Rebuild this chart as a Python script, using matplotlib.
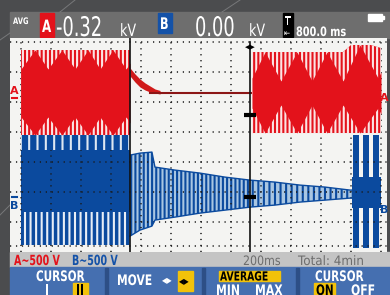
import matplotlib
matplotlib.use("Agg")
import matplotlib.pyplot as plt
from matplotlib.patches import Rectangle, PathPatch
from matplotlib.textpath import TextPath
from matplotlib.font_manager import FontProperties
from matplotlib.transforms import Affine2D, blended_transform_factory

# === SCOPE SETTINGS ===
T_DIV = 200          # ms / div, 12 div across
V_DIV = 500          # V / div, both channels
A_ZERO = 2.2         # zero level of A, in divisions from screen centre
B_ZERO = -1.17       # zero level of B
CURSOR_T = [727, 1527]
A_READ = -320        # V at cursor II
B_READ = 0

# === CHANNEL A (red) ===
a1_t = [0, 727]
a1_top = [767, 767]
a1_bot = [-650, -650]
a1_lobe_t = [0, 93, 180, 273, 360, 447, 527, 613, 700, 727]
a1_lobe_top = [450, 767, 450, 767, 450, 767, 450, 767, 450, 550]
a1_lobe_bot = [-350, -650, -350, -650, -350, -650, -350, -650, -350, -450]

a2_t = [727, 760, 793, 827, 860, 893, 927]
a2_top = [467, 367, 283, 217, 167, 117, 92]
a2_bot = [333, 233, 150, 100, 67, 50, 33]
a3_t = [860, 1540]
a3_v = [50, 50]

a4_t = [1540, 2147, 2200, 2330, 2400]
a4_top = [733, 733, 850, 850, 800]
a4_bot = [-617, -617, -617, -617, -617]
a4_lobe_t = [1540, 1627, 1733, 1840, 1940, 2040, 2147, 2260, 2380, 2400]
a4_lobe_top = [300, 733, 250, 733, 250, 733, 250, 850, 300, 400]
a4_lobe_bot = [-200, -617, -150, -617, -150, -617, -150, -617, -200, -300]

# === CHANNEL B (blue) ===
b1_t = [0, 727]
b1_top = [1067, 1067]
b1_bot = [-800, -800]
b1_notch = [783, 783]
b1_comb = [-250, -250]

b2_t = [727, 793, 873, 893, 1027, 1193, 1360, 1527, 1693, 1860, 2027, 2193, 2207]
b2_top = [700, 733, 750, 500, 450, 400, 333, 283, 250, 200, 167, 117, 117]
b2_bot = [-650, -550, -483, -383, -333, -267, -217, -167, -133, -83, -50, -17, -17]
B2_SPLIT = 7   # denser swing up to cursor II

b3_t = [2207, 2400]
b3_top = [333, 333]
b3_bot = [-183, -183]
b3_burst_t = [2233, 2300, 2367]
b3_burst_top = 1033
b3_burst_bot = -850

RED = "#e3121b"
DRED = "#8c1616"
BLUE = "#0b4a9e"
LBLUE = "#a9c6e2"
YEL = "#f2c20a"

plt.rcParams["hatch.linewidth"] = 1.5


def ya(v):
    return [A_ZERO + x / V_DIV for x in v]


def yb(v):
    return [B_ZERO + x / V_DIV for x in v]


W, H = 390, 295
fig = plt.figure(figsize=(3.9, 2.95), dpi=100)
fig.patch.set_facecolor("#4b4c4e")

# === BEZEL + BARS (pixel coords) ===
bg = fig.add_axes([0, 0, 1, 1])
bg.set_xlim(0, W)
bg.set_ylim(H, 0)
bg.axis("off")


def ptext(x, y, s, size, sx=0.72, color="white", weight="normal", family="DejaVu Sans"):
    # narrow scope font: squeeze a text path sideways, baseline at y
    tp = TextPath((0, 0), s, size=size, prop=FontProperties(family=family, weight=weight))
    tf = Affine2D().scale(sx, -1).translate(x, y) + bg.transData
    bg.add_patch(PathPatch(tp, transform=tf, color=color, lw=0))


for (x0, y0, x1, y1) in [(0, 40, 10, 33), (60, 12, 75, 0), (222, 12, 240, 0), (0, 215, 10, 205)]:
    bg.plot([x0, x1], [y0, y1], color="#77787a", lw=0.7)

bg.add_patch(Rectangle((10, 12), 380, 26, color="#6e6e6e"))
bg.add_patch(Rectangle((10, 252), 380, 15, color="#c4c4c4"))
bg.add_patch(Rectangle((10, 267), 380, 28, color="#456fb0"))
for xd in [105, 202, 296]:
    bg.add_patch(Rectangle((xd, 268), 3, 27, color="#2d4f86"))

# header
ptext(13, 24, "AVG", 9, sx=0.75, weight="bold")
bg.add_patch(Rectangle((40, 13), 14, 24, color=RED))
ptext(42, 32, "A", 17, sx=0.7, weight="bold")
ptext(56, 36, "-0.32", 27, sx=0.66)
ptext(120, 36, "kV", 17, sx=0.75)
bg.add_patch(Rectangle((158, 13), 14, 20, color="#1452a8"))
ptext(160, 29, "B", 16, sx=0.7, weight="bold")
ptext(195, 36, "0.00", 27, sx=0.66)
ptext(249, 36, "kV", 17, sx=0.75)
bg.add_patch(Rectangle((283, 13), 10, 24, color="black"))
ptext(284.5, 25, "T", 12, sx=0.75, weight="bold")
ptext(284, 36, "⇤", 9, sx=0.8)
ptext(296, 36, "800.0 ms", 13, sx=0.75, weight="bold")
bg.add_patch(Rectangle((368, 14), 14, 7, color="white"))
bg.add_patch(Rectangle((382, 16), 2, 3, color="white"))

# status bar
ptext(14, 265, "A~500 V", 14, sx=0.68, color=RED, weight="bold")
ptext(72, 265, "B~500 V", 14, sx=0.68, color="#1452a8", weight="bold")
ptext(243, 265, "200ms", 13, sx=0.85, color="#6d6d6d")
ptext(298, 265, "Total: 4min", 13, sx=0.92, color="#6d6d6d")

# function keys
fk = 14.5
ptext(36, 281, "CURSOR", fk, sx=0.72, weight="bold")
ptext(45, 295, "I", fk, sx=0.72, weight="bold")
bg.add_patch(Rectangle((73, 283), 15, 12, color=YEL))
ptext(76, 295, "II", fk, sx=0.72, color="black", weight="bold")
ptext(117, 285, "MOVE", fk, sx=0.74, weight="bold")
ptext(162, 284, "◂▸", 12, sx=0.8)
bg.add_patch(Rectangle((178, 271), 15, 20, color=YEL))
ptext(179, 285, "◂▸", 12, sx=0.8, color="black")
bg.add_patch(Rectangle((219, 271), 61, 10, color=YEL))
ptext(220, 280.5, "AVERAGE", 12.5, sx=0.74, color="black", weight="bold")
ptext(216, 295, "MIN", fk, sx=0.75, weight="bold")
ptext(255, 295, "MAX", fk, sx=0.75, weight="bold")
ptext(315, 281, "CURSOR", fk, sx=0.72, weight="bold")
bg.add_patch(Rectangle((314, 283), 21, 12, color=YEL))
ptext(316, 295, "ON", fk, sx=0.72, color="black", weight="bold")
ptext(351, 295, "OFF", fk, sx=0.75, weight="bold")

# === TRACE SCREEN ===
ax = fig.add_axes([10 / W, 1 - 252 / H, 377 / W, 214 / H])
ax.set_facecolor("#f4f4f2")
ax.set_xlim(-73.3, 2440)
ax.set_ylim(-3.0, 4.133)
ax.set_xticks([i * T_DIV for i in range(13)])
ax.set_yticks([-2.8, -2, -1, 0, 1, 2, 3, 4])
ax.grid(True, color="#1a1a1a", linestyle=(0, (0.8, 3.1)), linewidth=1.1)
ax.tick_params(length=0, labelbottom=False, labelleft=False)
for s in ax.spines.values():
    s.set_visible(False)

# B
ax.fill_between(b1_t, yb(b1_top), yb(b1_bot), color=BLUE, lw=0, zorder=1.5)
ax.fill_between(b1_t, yb(b1_comb), yb(b1_bot), facecolor=BLUE, edgecolor="#e8eef6", hatch="|||", lw=0, zorder=1.6)
ax.fill_between(b1_t, yb(b1_top), yb(b1_notch), facecolor=BLUE, edgecolor="#dfe8f2", hatch="||", lw=0, zorder=1.6)
k = B2_SPLIT
ax.fill_between(b2_t[:k + 1], yb(b2_top[:k + 1]), yb(b2_bot[:k + 1]), facecolor=LBLUE, edgecolor=BLUE,
                hatch="||||", lw=0, zorder=1.5)
ax.fill_between(b2_t[k:], yb(b2_top[k:]), yb(b2_bot[k:]), facecolor=LBLUE, edgecolor=BLUE,
                hatch="|||", lw=0, zorder=1.5)
ax.plot(b2_t, yb(b2_top), color=BLUE, lw=1, zorder=1.7)
ax.plot(b2_t, yb(b2_bot), color=BLUE, lw=1, zorder=1.7)
ax.fill_between(b3_t, yb(b3_top), yb(b3_bot), color=BLUE, lw=0, zorder=1.5)
ax.bar(b3_burst_t, (b3_burst_top - b3_burst_bot) / V_DIV, bottom=yb([b3_burst_bot])[0],
       width=40, color=BLUE, zorder=1.5)

# A
ax.fill_between(a1_t, ya(a1_top), ya(a1_bot), facecolor=RED, edgecolor="#fbe4e4", hatch="||||", lw=0, zorder=2)
ax.fill_between(a1_lobe_t, ya(a1_lobe_top), ya(a1_lobe_bot), color=RED, lw=0, zorder=2.1)
ax.fill_between(a2_t, ya(a2_top), ya(a2_bot), color="#d01a1a", lw=0, zorder=2)
ax.plot(a3_t, ya(a3_v), color=DRED, lw=1.5, zorder=2)
ax.fill_between(a4_t, ya(a4_top), ya(a4_bot), facecolor=RED, edgecolor="#fbe4e4", hatch="||||", lw=0, zorder=2)
ax.fill_between(a4_lobe_t, ya(a4_lobe_top), ya(a4_lobe_bot), color=RED, lw=0, zorder=2.1)

# cursors
ax.axvline(CURSOR_T[0], color="#111111", lw=1.2, zorder=4)
ax.axvline(CURSOR_T[1], ymax=0.981, color="#111111", lw=1.2, zorder=4)
ax.text(CURSOR_T[1], 3.83, "◀▶", fontsize=5, ha="center", va="center", color="black", zorder=5)
ax.plot([CURSOR_T[1]], ya([A_READ]), marker="_", ms=8, mew=3, color="black", zorder=5)
ax.plot([CURSOR_T[1]], yb([B_READ]), marker="_", ms=8, mew=3, color="black", zorder=5)

# channel markers
tr = blended_transform_factory(ax.transAxes, ax.transData)
mk = dict(fontsize=8, fontweight="bold", ha="center", va="center", transform=tr)
ax.text(0.011, A_ZERO + 0.18, "A", color=RED, **mk)
ax.plot([0.004, 0.018], [A_ZERO - 0.07] * 2, color=RED, lw=1.5, transform=tr)
ax.plot([0.004, 0.018], [B_ZERO] * 2, color=BLUE, lw=1.5, transform=tr)
ax.text(0.011, B_ZERO - 0.3, "B", color=BLUE, **mk)
ax.text(0.992, A_ZERO - 0.07, "A", color=RED, **mk)
ax.text(0.992, B_ZERO - 0.43, "B", color=BLUE, **mk)

fig.savefig("out.png", dpi=100, facecolor=fig.get_facecolor())
